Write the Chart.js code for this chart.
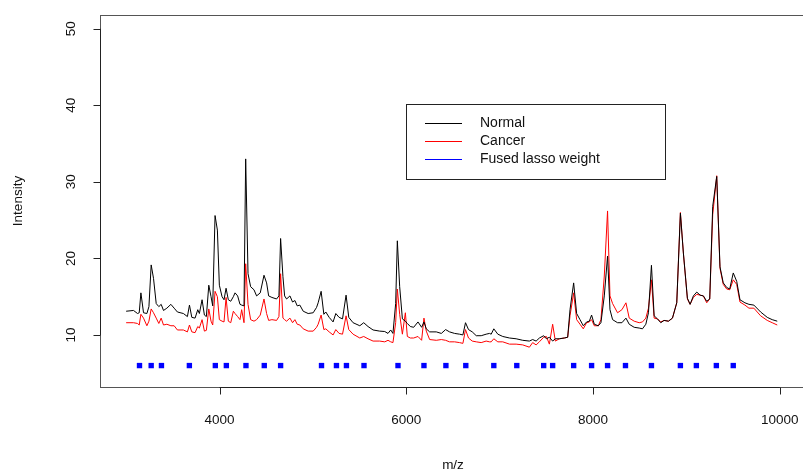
<!DOCTYPE html>
<html>
<head>
<meta charset="utf-8">
<script src="https://cdn.jsdelivr.net/npm/chart.js@4/dist/chart.umd.min.js"></script>
<style>
  html, body { margin: 0; padding: 0; background: #fff; overflow: hidden; }
  #wrap { width: 810px; height: 475px; }
</style>
</head>
<body>
<div id="wrap"><canvas id="c" width="810" height="475"></canvas></div>
<script>
// ---- data ----
const mz = [3000,3079,3122,3140,3158,3186,3222,3244,3268,3293,3322,3350,3375,3400,3436,3479,3514,3549,3613,3656,3678,3703,3738,3767,3784,3813,3838,3859,3885,3909,3927,3952,3977,3998,4027,4048,4070,4094,4120,4148,4166,4194,4219,4237,4262,4280,4305,4333,4369,4397,4436,4476,4504,4526,4561,4611,4636,4654,4679,4697,4718,4754,4782,4807,4832,4860,4896,4949,5003,5039,5056,5088,5117,5138,5174,5216,5245,5280,5317,5355,5384,5430,5502,5544,5590,5644,5715,5769,5804,5833,5857,5886,5904,5929,5958,5990,6011,6043,6079,6125,6164,6189,6214,6250,6321,6375,6421,6463,6517,6570,6606,6634,6666,6706,6749,6802,6855,6891,6909,6937,6980,7033,7105,7176,7247,7318,7353,7390,7425,7471,7500,7532,7567,7596,7639,7692,7728,7753,7792,7824,7860,7895,7931,7960,7984,8013,8056,8084,8120,8155,8181,8209,8262,8309,8352,8387,8440,8494,8529,8565,8593,8625,8654,8689,8725,8760,8807,8850,8896,8935,8967,9010,9039,9074,9110,9146,9181,9217,9249,9281,9324,9359,9394,9431,9463,9501,9538,9573,9626,9669,9722,9794,9865,9918,9972];
const normal = [13.1,13.2,12.8,12.9,15.5,12.9,12.8,13.7,19.15,17.4,14.1,13.7,14.0,13.2,13.5,14.0,13.5,13.0,12.8,12.4,13.9,12.3,12.2,13.3,12.8,14.6,12.6,12.4,16.5,15.0,13.8,25.6,23.7,16.5,15.0,14.6,16.1,14.6,14.4,15.0,15.5,15.1,14.0,13.9,13.8,33.0,18.0,16.3,15.9,15.1,15.5,17.8,16.8,15.1,14.9,14.7,15.1,22.6,17.6,15.1,14.7,15.1,14.3,14.5,13.8,13.9,13.1,12.8,12.9,13.6,14.2,15.7,12.7,13.0,12.3,11.7,12.8,12.3,12.1,15.2,12.3,11.6,11.2,11.6,11.1,10.65,10.5,10.45,10.2,10.65,10.2,14.1,22.3,16.3,12.1,11.8,11.5,11.1,11.0,11.7,11.0,11.7,10.8,10.4,10.4,10.2,10.7,10.4,10.2,10.1,10.0,11.6,10.7,10.4,9.9,9.9,10.1,10.2,10.1,10.8,10.1,9.8,9.6,9.5,9.3,9.2,9.4,9.2,9.6,9.9,9.5,9.7,9.2,9.5,9.5,9.6,9.7,13.3,16.8,12.8,12.0,11.2,11.7,11.8,12.6,11.4,11.2,11.6,15.1,20.3,13.3,12.0,11.6,11.6,12.2,11.4,11.0,10.9,10.8,11.4,12.9,19.1,12.5,12.1,11.6,11.9,11.8,12.2,14.2,25.9,20.7,14.8,14.0,15.1,15.6,15.2,15.1,14.4,14.7,26.8,30.7,18.9,16.8,16.2,16.0,18.1,17.0,14.6,14.2,14.0,13.9,13.0,12.3,12.0,11.8];
const cancer = [11.6,11.6,11.5,11.3,12.7,12.2,11.2,11.8,13.4,12.9,12.2,11.5,12.2,11.3,11.4,11.2,11.2,10.65,10.65,10.4,11.3,10.4,10.3,11.1,10.9,12.0,10.5,10.6,13.4,11.8,11.3,15.7,15.0,12.0,11.8,11.7,14.9,11.8,11.6,13.1,12.8,12.4,12.0,13.3,11.6,19.3,14.0,12.0,11.8,12.0,12.6,14.7,12.8,11.9,12.0,11.9,12.4,18.0,12.2,12.0,11.8,12.2,11.6,12.0,11.4,11.3,10.8,10.5,10.5,11.0,11.4,12.6,10.7,10.8,10.4,10.0,10.7,10.2,10.1,12.5,10.7,10.1,9.6,9.8,9.5,9.2,9.2,9.1,9.3,9.1,9.0,11.6,16.0,12.7,10.1,12.9,9.8,9.6,9.6,9.8,9.3,12.2,10.5,9.4,9.3,9.4,9.3,9.1,9.1,9.0,8.9,10.7,9.6,9.2,9.1,9.0,9.2,9.1,9.1,9.5,9.1,9.1,8.8,8.8,8.7,8.4,9.0,8.7,9.1,9.7,9.8,8.8,11.4,9.2,9.5,9.6,9.7,12.5,15.5,12.0,11.4,10.8,11.6,11.7,12.0,11.2,11.2,12.0,17.7,26.2,15.1,14.1,12.9,13.3,14.2,12.2,11.8,11.6,11.7,12.2,13.5,17.2,12.2,12.1,11.7,11.9,11.8,12.2,14.2,26.0,20.7,14.7,14.0,14.9,15.3,15.2,15.1,14.2,14.7,25.7,30.8,18.7,16.6,16.0,15.9,17.2,16.6,14.3,13.9,13.5,13.5,12.5,11.9,11.6,11.3];
const fusedMz = [3143,3268,3378,3677,3955,4073,4283,4479,4654,5092,5252,5359,5547,5911,6189,6424,6637,6937,7183,7471,7567,7792,7984,8155,8347,8625,8935,9106,9320,9501];
const fusedY = [6,6,6,6,6,6,6,6,6,6,6,6,6,6,6,6,6,6,6,6,6,6,6,6,6,6,6,6,6,6];
const seriesNames = ["Normal", "Cancer", "Fused lasso weight"];
const xTicks = [4000, 6000, 8000, 10000];
const yTicks = [10, 20, 30, 40, 50];
const xTitle = "m/z";
const yTitle = "Intensity";

const FONT = '"Liberation Sans", Arial, Helvetica, sans-serif';

const toXY = (xs, ys) => xs.map((x, i) => ({ x: x, y: ys[i] }));

const rFrame = {
  id: 'rFrame',
  afterDraw(chart) {
    const ctx = chart.ctx;
    const a = chart.chartArea;
    const xs = chart.scales.x, ys = chart.scales.y;
    ctx.save();
    // box
    ctx.strokeStyle = '#555';
    ctx.lineWidth = 1;
    ctx.strokeRect(Math.round(a.left) + 0.5, Math.round(a.top) + 0.5,
                   Math.round(a.right - a.left), Math.round(a.bottom - a.top));
    ctx.strokeStyle = '#222';
    // x axis
    const yb = Math.round(a.bottom) + 0.5;
    ctx.beginPath();
    ctx.moveTo(xs.getPixelForValue(xTicks[0]), yb);
    ctx.lineTo(xs.getPixelForValue(xTicks[xTicks.length - 1]), yb);
    xTicks.forEach(v => {
      const px = Math.round(xs.getPixelForValue(v)) + 0.5;
      ctx.moveTo(px, yb); ctx.lineTo(px, yb + 7);
    });
    ctx.stroke();
    // y axis
    const xl = Math.round(a.left) + 0.5;
    ctx.beginPath();
    ctx.moveTo(xl, ys.getPixelForValue(yTicks[0]));
    ctx.lineTo(xl, ys.getPixelForValue(yTicks[yTicks.length - 1]));
    yTicks.forEach(v => {
      const py = Math.round(ys.getPixelForValue(v)) + 0.5;
      ctx.moveTo(xl, py); ctx.lineTo(xl - 7, py);
    });
    ctx.stroke();
    // tick labels
    ctx.fillStyle = '#111';
    ctx.font = '13.5px ' + FONT;
    ctx.textAlign = 'center';
    ctx.textBaseline = 'middle';
    xTicks.forEach(v => ctx.fillText(String(v), xs.getPixelForValue(v), 420));
    yTicks.forEach(v => {
      ctx.save();
      ctx.translate(71, ys.getPixelForValue(v));
      ctx.rotate(-Math.PI / 2);
      ctx.fillText(String(v), 0, 0);
      ctx.restore();
    });
    // axis titles
    ctx.fillText(xTitle, (a.left + a.right) / 2, 465);
    ctx.save();
    ctx.translate(18, (a.top + a.bottom) / 2);
    ctx.rotate(-Math.PI / 2);
    ctx.fillText(yTitle, 0, 0);
    ctx.restore();
    // legend
    const bx = 406.5, by = 104.5, bw = 259, bh = 75;
    ctx.strokeStyle = '#222';
    ctx.strokeRect(bx, by, bw, bh);
    ctx.textAlign = 'left';
    ctx.font = '14px ' + FONT;
    chart.data.datasets.forEach((ds, i) => {
      const ly = 123 + i * 18;
      ctx.strokeStyle = ds.legendColor;
      ctx.lineWidth = 1;
      ctx.beginPath();
      ctx.moveTo(425, ly + 0.5); ctx.lineTo(462, ly + 0.5);
      ctx.stroke();
      ctx.fillStyle = '#111';
      ctx.fillText(ds.label, 480, ly);
    });
    ctx.restore();
  }
};

new Chart(document.getElementById('c'), {
  type: 'scatter',
  data: {
    datasets: [
      { label: seriesNames[0], data: toXY(mz, normal), showLine: true, borderColor: '#000000',
        borderWidth: 1, pointRadius: 0, tension: 0, legendColor: '#000000', order: 1 },
      { label: seriesNames[1], data: toXY(mz, cancer), showLine: true, borderColor: '#ff0000',
        borderWidth: 1, pointRadius: 0, tension: 0, legendColor: '#ff0000', order: 2 },
      { label: seriesNames[2], data: toXY(fusedMz, fusedY), showLine: false, pointStyle: 'rect',
        pointRadius: 3.8, pointBackgroundColor: '#0000ff', pointBorderWidth: 0,
        borderColor: '#0000ff', legendColor: '#0000ff', order: 0 }
    ]
  },
  options: {
    responsive: false,
    animation: false,
    events: [],
    layout: { padding: { left: 100, top: 15, right: 3, bottom: 88 } },
    plugins: { legend: { display: false }, tooltip: { enabled: false } },
    scales: {
      x: { type: 'linear', display: false, min: 2720, max: 10280 },
      y: { type: 'linear', display: false, min: 3.2, max: 51.8 }
    }
  },
  plugins: [rFrame]
});
</script>
</body>
</html>
